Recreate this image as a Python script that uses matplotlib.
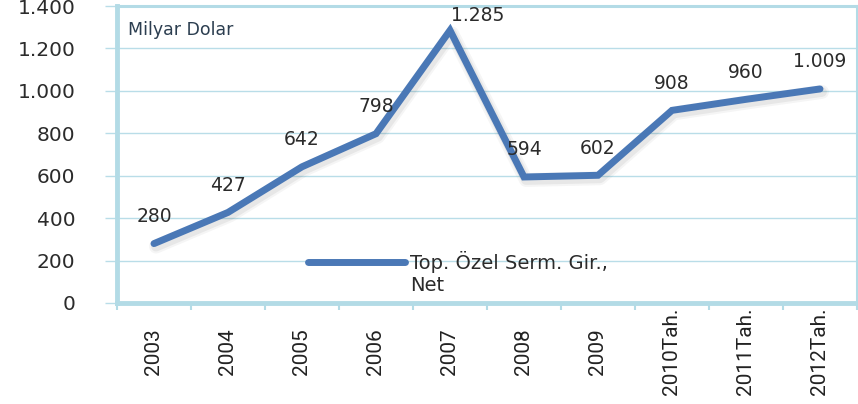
import matplotlib
matplotlib.use("Agg")
import matplotlib.pyplot as plt
import matplotlib.transforms as mtransforms

categories = ["2003", "2004", "2005", "2006", "2007", "2008", "2009",
              "2010Tah.", "2011Tah.", "2012Tah."]
values = [280, 427, 642, 798, 1285, 594, 602, 908, 960, 1009]
labels = ["280", "427", "642", "798", "1.285", "594", "602", "908", "960", "1.009"]
yticks = [0, 200, 400, 600, 800, 1000, 1200, 1400]
ytick_labels = ["0", "200", "400", "600", "800", "1.000", "1.200", "1.400"]
series_name = "Top. Özel Serm. Gir.,"
series_name2 = "Net"
unit = "Milyar Dolar"

wide = "DejaVu Sans"
narrow = "Roboto"

line_c = "#4a78b6"
grid_c = "#b9dde8"
frame_c = "#b3dbe6"
text_c = "#2b2b2b"

fig = plt.figure(figsize=(8.58, 4.04), dpi=100)
ax = fig.add_axes([117/858, 1 - 303/404, (857-117)/858, (303-6)/404])

x = list(range(len(categories)))
shadow = ax.transData + mtransforms.ScaledTranslation(2/100, -3/100, fig.dpi_scale_trans)
for lw, a in [(10, 0.05), (7, 0.08)]:
    ax.plot(x, values, color="#444444", lw=lw, alpha=a, solid_capstyle="round",
            solid_joinstyle="round", transform=shadow, zorder=2)
ax.plot(x, values, color=line_c, lw=5, solid_capstyle="round",
        solid_joinstyle="miter", label=series_name, zorder=3)

ax.set_xlim(-0.5, len(categories) - 0.5)
ax.set_ylim(0, 1400)
ax.set_yticks(yticks)
ax.set_yticklabels(ytick_labels, fontfamily=wide, fontsize=14.5, color=text_c)
ax.set_xticks([i - 0.5 for i in range(len(categories) + 1)])
ax.set_xticklabels([])
ax.set_xticks(x, minor=True)
ax.set_xticklabels(categories, minor=True)
ax.tick_params(axis="x", which="major", length=5, color=frame_c, width=1.5, direction="out")
ax.tick_params(axis="x", which="minor", length=0, pad=35, labelsize=15,
               labelfontfamily=narrow, labelcolor="#222222", labelrotation=90)
for t in ax.get_xticklabels(minor=True):
    t.set_va("center")
ax.tick_params(axis="y", length=9, color=grid_c, width=1, pad=21)

ax.grid(axis="y", color=grid_c, lw=1)
ax.set_axisbelow(True)

for s in ["left", "bottom"]:
    ax.spines[s].set_color(frame_c)
    ax.spines[s].set_linewidth(3.5)
for s in ["top", "right"]:
    ax.spines[s].set_color(frame_c)
    ax.spines[s].set_linewidth(2.2)

for i, (v, lab) in enumerate(zip(values, labels)):
    off = (20, 11) if i == 4 else (0, 19.5)
    ax.annotate(lab, (i, v), xytext=off, textcoords="offset points",
                ha="center", va="center", fontfamily=wide, fontsize=13.5, color=text_c,
                zorder=4)

ax.text(11/740, 0.92, unit, transform=ax.transAxes, fontfamily=wide,
        fontsize=12.5, color="#2c3e50", va="center", ha="left")

leg = ax.legend(loc="center left", bbox_to_anchor=((308-117)/740, (303-262)/297),
                frameon=False, handlelength=5.0, handletextpad=0.25,
                borderpad=0, borderaxespad=0,
                prop={"family": wide, "size": 14})
lt = leg.get_texts()[0]
lt.set_color(text_c)
ax.annotate(series_name2, xy=(0, 0), xycoords=lt, xytext=(0, -2),
            textcoords="offset points", ha="left", va="top",
            fontfamily=wide, fontsize=14, color=text_c, zorder=10)

fig.savefig("out.png", dpi=100)
